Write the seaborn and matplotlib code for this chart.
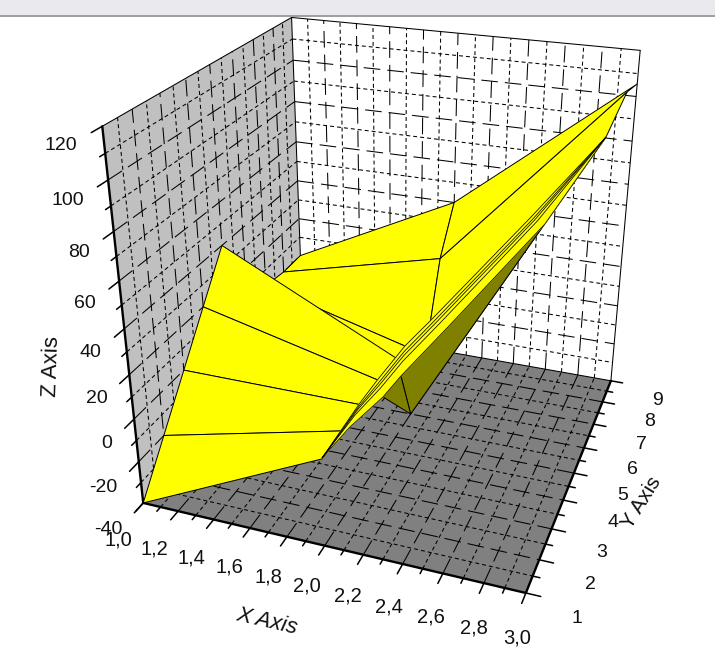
import numpy as np
import matplotlib
matplotlib.use("Agg")
import matplotlib.pyplot as plt
from matplotlib.patches import Rectangle
import seaborn as sns

# surface, one small grid per visible sheet
front_x = [1, 2]
front_y = [1, 2, 3, 4, 5]
front_z = [[-40, 0], [-20, 0], [0, 0], [20, 0], [40, 0]]

upper_x = [[1, 2, 2.874], [1, 2, 2.874], [1, 2, 2.958], [1, 2, 3]]
upper_y = [[6, 6, 8.6], [7, 7, 8.6], [8, 8, 8.8], [9, 9, 9]]
upper_z = [[20, -40, 83.3], [2, -20, 83.3], [0, 20, 102.8], [0, 40, 105.5]]

strip_x = [[2.0, 2.0, 2.0, 2.0, 2.0],
           [2.043, 2.033, 2.026, 2.016, 1.988],
           [2.071, 2.076, 2.079, 2.084, 2.097],
           [2.141, 2.138, 2.135, 2.131, 2.12],
           [2.196, 2.214, 2.229, 2.248, 2.299],
           [2.575, 2.59, 2.601, 2.616, 2.657],
           [2.874, 2.874, 2.874, 2.874, 2.874]]
strip_y = [1.0, 2.5, 3.2, 4.0, 5.0, 7.0, 8.6]
strip_z = [[0.4, 0.4, 0.4, 0.4, 0.4],
           [7.5, 5.3, 3.7, 1.5, -4.5],
           [10.8, 9.4, 8.3, 6.9, 3.0],
           [18.4, 15.9, 13.9, 11.3, 4.1],
           [21.0, 20.9, 20.8, 20.6, 20.2],
           [55.1, 54.8, 54.6, 54.3, 53.4],
           [83.3, 83.3, 83.3, 83.3, 83.3]]

under_x = [[2.097, 2.12, 2.874], [2, 2, 2]]
under_y = [[3.2, 4, 8.6], [6, 6, 6]]
under_z = [[3.0, 4.1, 83.3], [-40, -40, -40]]

x_ticks = np.arange(10, 31) / 10
y_ticks = np.arange(2, 19) / 2
z_ticks = np.arange(-40, 121, 10)

sns.set_theme(style="white", font="Liberation Sans")

fig = plt.figure(figsize=(7.15, 6.5), dpi=100, facecolor="white")
ax = fig.add_axes([61.85 / 715, 43.14 / 650, 650 / 715, 1], projection="3d", computed_zorder=False)
ax.set_axis_off()

xlo, xhi, ylo, yhi, zlo, zhi = 1, 3, 1, 9, -40, 120


def sheet(x, y, z, color, order, edge="black"):
    ax.plot_surface(np.array(x, float), np.array(y, float), np.array(z, float), color=color, edgecolor=edge,
                    linewidth=0.7 if edge != "none" else 0, shade=False, rstride=1, cstride=1, zorder=order)


# walls
sheet([[xlo, xlo], [xlo, xlo]], [[ylo, yhi], [ylo, yhi]], [[zlo, zlo], [zhi, zhi]], "#c0c0c0", 1, "none")
sheet([[xlo, xhi], [xlo, xhi]], [[yhi, yhi], [yhi, yhi]], [[zlo, zlo], [zhi, zhi]], "white", 1, "none")
sheet([[xlo, xhi], [xlo, xhi]], [[ylo, ylo], [yhi, yhi]], [[zlo, zlo], [zlo, zlo]], "#808080", 1, "none")


def grid_style(is_major):
    return dict(color="black", lw=0.75, zorder=2, ls=(0, (16, 6.7)) if is_major else (0, (3.8, 2.9)))


for v in x_ticks[1:-1]:
    major = int(round(v * 10)) % 2 == 0
    ax.plot([v, v], [yhi, yhi], [zlo, zhi], **grid_style(major))
    ax.plot([v, v], [ylo, yhi], [zlo, zlo], **grid_style(major))
for v in y_ticks[1:-1]:
    major = float(v).is_integer()
    ax.plot([xlo, xlo], [v, v], [zlo, zhi], **grid_style(major))
    ax.plot([xlo, xhi], [v, v], [zlo, zlo], **grid_style(major))
for v in z_ticks[1:-1]:
    major = v % 20 == 0
    ax.plot([xlo, xhi], [yhi, yhi], [v, v], **grid_style(major))
    ax.plot([xlo, xlo], [ylo, yhi], [v, v], **grid_style(major))

# thin box edges, heavy axis lines
for a, b, c in [([xlo, xlo], [ylo, yhi], [zhi, zhi]), ([xlo, xhi], [yhi, yhi], [zhi, zhi]),
                ([xlo, xlo], [yhi, yhi], [zlo, zhi]), ([xhi, xhi], [yhi, yhi], [zlo, zhi]),
                ([xlo, xhi], [yhi, yhi], [zlo, zlo]), ([xlo, xlo], [ylo, yhi], [zlo, zlo])]:
    ax.plot(a, b, c, color="black", lw=0.75, zorder=3)
for a, b, c in [([xlo, xlo], [ylo, ylo], [zlo, zhi]), ([xlo, xhi], [ylo, ylo], [zlo, zlo]),
                ([xhi, xhi], [ylo, yhi], [zlo, zlo])]:
    ax.plot(a, b, c, color="black", lw=1.7, zorder=3, solid_capstyle="round")

# tick marks
for v in x_ticks:
    size = 0.3 if int(round(v * 10)) % 2 == 0 else 0.15
    ax.plot([v, v], [ylo, ylo - size], [zlo, zlo], color="black", lw=1.1, zorder=3)
for v in y_ticks:
    size = 0.07 if float(v).is_integer() else 0.035
    ax.plot([xhi, xhi + size], [v, v], [zlo, zlo], color="black", lw=1.1, zorder=3)
for v in z_ticks:
    size = 0.35 if v % 20 == 0 else 0.18
    ax.plot([xlo, xlo], [ylo, ylo - size], [v, v], color="black", lw=1.1, zorder=3)

# surface, back to front
X, Y = np.meshgrid(front_x, front_y)
sheet(upper_x, upper_y, upper_z, "#ffff00", 4)
sheet(under_x, under_y, under_z, "#808000", 5)
sheet(X, Y, front_z, "#ffff00", 6)
strip_yy = np.tile(np.array(strip_y)[:, None], (1, 5))
sheet(strip_x, strip_yy, strip_z, "#ffff00", 7, edge="#ffff00")
for k in range(5):
    ax.plot(np.array(strip_x)[:, k], strip_yy[:, k], np.array(strip_z)[:, k], color="black", lw=0.55, zorder=8)

# tick labels
text_color = "#111111"
for v in x_ticks[::2]:
    ax.text(v + 0.04, -0.2, zlo, f"{v:.1f}".replace(".", ","), fontsize=14.5, color=text_color,
            ha="center", va="center", zorder=9)
for v in y_ticks[::2]:
    ax.text(3.24 + 0.005 * v, v, -46, f"{v:.0f}", fontsize=14, color=text_color, ha="center", va="center", zorder=9)
for v in z_ticks[::2]:
    ax.text(xlo, 0.2, v - 1.5, f"{v}", fontsize=14, color=text_color, ha="right", va="center", zorder=9)

ax.set_xlim(xlo, xhi)
ax.set_ylim(ylo, yhi)
ax.set_zlim(zlo, zhi)
ax.set_xticks([])
ax.set_yticks([])
ax.set_zticks([])
ax.view_init(25.9558, -70.0543, -0.015)
ax.set_proj_type("persp", focal_length=0.3525)
ax.set_box_aspect((1, 1.0035, 1.0064), zoom=1.0053)

fig.text(267 / 715, 1 - 622 / 650, "X Axis", fontsize=16, style="italic", rotation=-13, color=text_color,
         ha="center", va="center", rotation_mode="anchor")
fig.text(642 / 715, 1 - 503 / 650, "Y Axis", fontsize=15, rotation=58, color=text_color,
         ha="center", va="center", rotation_mode="anchor")
fig.text(52 / 715, 1 - 366 / 650, "Z Axis", fontsize=16, rotation=88, color=text_color,
         ha="center", va="center", rotation_mode="anchor")

# window strip along the top of the capture
fig.add_artist(Rectangle((0, 1 - 15 / 650), 1, 15 / 650, transform=fig.transFigure, facecolor="#e9e9ee",
                         edgecolor="none", zorder=20))
fig.add_artist(Rectangle((0, 1 - 17 / 650), 1, 2 / 650, transform=fig.transFigure, facecolor="#a0a0a4",
                         edgecolor="none", zorder=20))

fig.savefig("out.png", dpi=100)
